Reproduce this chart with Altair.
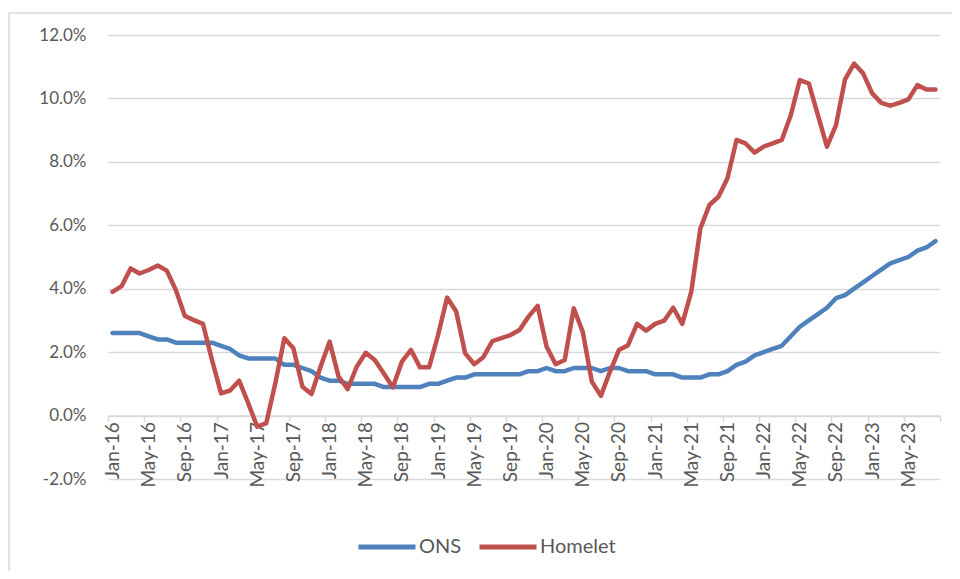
import json
import altair as alt
import pandas as pd

# Monthly categories Jan-16 .. Aug-23
months = list(pd.date_range("2016-01-01", "2023-08-01", freq="MS").strftime("%b-%y"))

ons = [2.6, 2.6, 2.6, 2.6, 2.5, 2.4, 2.4, 2.3, 2.3, 2.3, 2.3, 2.3,
       2.2, 2.1, 1.9, 1.8, 1.8, 1.8, 1.8, 1.6, 1.6, 1.5, 1.4, 1.2,
       1.1, 1.1, 1.0, 1.0, 1.0, 1.0, 0.9, 0.9, 0.9, 0.9, 0.9, 1.0,
       1.0, 1.1, 1.2, 1.2, 1.3, 1.3, 1.3, 1.3, 1.3, 1.3, 1.4, 1.4,
       1.5, 1.4, 1.4, 1.5, 1.5, 1.5, 1.4, 1.5, 1.5, 1.4, 1.4, 1.4,
       1.3, 1.3, 1.3, 1.2, 1.2, 1.2, 1.3, 1.3, 1.4, 1.6, 1.7, 1.9,
       2.0, 2.1, 2.2, 2.5, 2.8, 3.0, 3.2, 3.4, 3.7, 3.8, 4.0, 4.2,
       4.4, 4.6, 4.8, 4.9, 5.0, 5.2, 5.3, 5.5]

homelet = [3.90, 4.08, 4.64, 4.48, 4.59, 4.73, 4.57, 3.96, 3.14, 3.01, 2.89, 1.75,
           0.70, 0.79, 1.10, 0.39, -0.35, -0.24, 1.02, 2.44, 2.12, 0.91, 0.68, 1.54,
           2.33, 1.23, 0.83, 1.54, 1.98, 1.75, 1.33, 0.89, 1.70, 2.07, 1.52, 1.52,
           2.54, 3.72, 3.28, 1.96, 1.62, 1.84, 2.35, 2.44, 2.54, 2.70, 3.12, 3.46,
           2.17, 1.62, 1.75, 3.38, 2.64, 1.07, 0.62, 1.38, 2.07, 2.22, 2.89, 2.68,
           2.89, 2.99, 3.40, 2.89, 3.91, 5.90, 6.64, 6.90, 7.48, 8.69, 8.58, 8.29,
           8.48, 8.58, 8.69, 9.47, 10.58, 10.47, 9.47, 8.48, 9.16, 10.60, 11.10, 10.79,
           10.16, 9.86, 9.77, 9.86, 9.97, 10.42, 10.28, 10.28]

series_names = ["ONS", "Homelet"]
series_colors = ["#4F81BD", "#C0504D"]
y_ticks = [-2, 0, 2, 4, 6, 8, 10, 12]

rows = []
for name, vals in zip(series_names, [ons, homelet]):
    for i, v in enumerate(vals):
        rows.append({"idx": i, "month": months[i], "series": name, "value": v})
df = pd.DataFrame(rows)

n = len(months)
tick_vals = [k - 0.5 for k in range(0, n + 1, 4)]
tick_labels = months[::4]
label_expr = ("datum.value > %s ? '' : %s[round((datum.value + 0.5) / 4)]"
              % (n - 1, json.dumps(tick_labels)))

FONT = "Lato"
GRAY_TXT = "#595959"
GRID = "#D9D9D9"

lines = alt.Chart(df).mark_line(strokeWidth=4.5, strokeJoin="round", strokeCap="round").encode(
    x=alt.X("idx:Q",
            scale=alt.Scale(domain=[-0.5, n - 0.5], nice=False, zero=False),
            axis=alt.Axis(values=tick_vals, labelExpr=label_expr, labelAngle=-90,
                          labelOffset=4.5, grid=False, domain=True, domainColor=GRID,
                          domainWidth=1.5, ticks=True, tickColor=GRID, tickWidth=1.5,
                          tickSize=6, labelPadding=0, offset=-63.4, title=None,
                          labelFont=FONT, labelFontSize=19, labelColor=GRAY_TXT,
                          labelOverlap=False, labelBound=False, labelFlush=False)),
    y=alt.Y("value:Q",
            scale=alt.Scale(domain=[-2, 12], nice=False, zero=False),
            axis=alt.Axis(values=y_ticks,
                          labelExpr="(datum.value < 0 ? '-' : '') + format(abs(datum.value), '.1f') + '%'",
                          grid=True, gridColor=GRID, gridWidth=1.5, domain=False,
                          ticks=False, labelPadding=22, title=None,
                          labelFont=FONT, labelFontSize=17, labelColor=GRAY_TXT)),
    color=alt.Color("series:N",
                    scale=alt.Scale(domain=series_names, range=series_colors),
                    sort=series_names,
                    legend=alt.Legend(title=None, orient="none", legendX=248, legendY=481,
                                      direction="horizontal", symbolType="stroke",
                                      symbolSize=3249, symbolStrokeWidth=5,
                                      labelFont=FONT, labelFontSize=20,
                                      labelColor=GRAY_TXT, labelOffset=1,
                                      columnPadding=7)),
    order=alt.Order("idx:Q"),
)

border_df = pd.DataFrame({"a": [0]})
border = alt.Chart(border_df).mark_rect(filled=False, stroke="#D9D9D9", strokeWidth=1.5).encode(
    x=alt.value(-99), x2=alt.value(1000), y=alt.value(-22), y2=alt.value(600)
)

chart = alt.layer(border, lines).properties(
    width=832, height=444,
    autosize=alt.AutoSizeParams(type="none"),
    padding={"left": 100, "top": 27, "right": 12, "bottom": 92},
).configure_view(stroke=None)

chart.save("out.html", embed_options={"renderer": "svg", "actions": False})
